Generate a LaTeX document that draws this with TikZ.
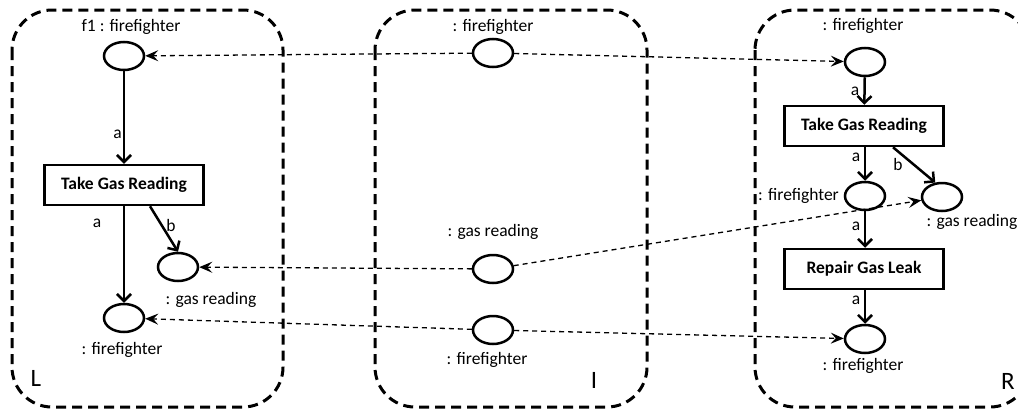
\documentclass[tikz,border=0pt]{standalone}
\usepackage{fontspec}
\setmainfont{Carlito}
\usetikzlibrary{arrows.meta,shapes.geometric}
\begin{document}
\begin{tikzpicture}[x=1pt,y=-1pt,
  every node/.style={font=\fontsize{17.5}{20}\selectfont},
  panel/.style={draw,line width=3pt,dash pattern=on 10pt off 6pt,rounded corners=40pt},
  place/.style={draw,ellipse,line width=2.5pt,minimum width=40pt,minimum height=28pt,inner sep=0pt},
  trans/.style={draw,rectangle,line width=2.5pt,minimum width=159pt,minimum height=40pt,inner sep=0pt,font=\fontsize{17.5}{20}\selectfont\bfseries},
  arc/.style={line width=2.5pt,-{Straight Barb[length=7pt,width=14pt,line width=2.5pt]}},
  map/.style={line width=1.3pt,dash pattern=on 5pt off 4pt,-{Stealth[length=13pt,width=11pt,inset=5pt]}},
  lbl/.style={inner sep=0pt},
  big/.style={inner sep=0pt,font=\fontsize{25}{28}\selectfont}]
\useasboundingbox (0,0) rectangle (1018,410);
\clip (0,0) rectangle (1018,410);
% panels
\draw[panel] (12,10) rectangle (283,407);
\draw[panel] (375,10) rectangle (647,407);
\draw[panel] (755,10) rectangle (1030,407);
% L panel
\node[lbl] (lt1) at (131,27) {f1 : firefighter};
\node[place] (lf1) at (124,56) {};
\node[trans] (ltgr) at (124,185) {Take Gas Reading};
\node[place] (lgr) at (178,267) {};
\node[place] (lff) at (124,318) {};
\node[lbl] (lt2) at (211,300) {: gas reading};
\node[lbl] (lt3) at (122,350) {: firefighter};
\node[big] (lL) at (36,378) {L};
\draw[arc] (lf1) -- (ltgr) node[pos=0.68,left=1pt,lbl] (la1) {a};
\draw[arc] (ltgr.south) -- (lff) ;
\node[lbl] (la2) at (97,223) {a};
\draw[arc] ([xshift=26pt]ltgr.south) -- (lgr.north);
\node[lbl] (lb1) at (171,225) {b};
% I panel
\node[lbl] (it1) at (493,27) {: firefighter};
\node[place] (if1) at (493,53) {};
\node[lbl] (it2) at (493,232) {: gas reading};
\node[place] (igr) at (493,269) {};
\node[place] (iff) at (493,330) {};
\node[lbl] (it3) at (487,360) {: firefighter};
\node[big] (iI) at (594,380) {I};
% R panel
\node[lbl] (rt1) at (863,26) {: firefighter};
\node[place] (rf1) at (865,62) {};
\node[trans] (rtgr) at (864,126) {Take Gas Reading};
\node[place] (rff) at (865,196) {};
\node[place] (rgr) at (942,197) {};
\node[trans] (rrgl) at (864,269) {Repair Gas Leak};
\node[place] (rfe) at (865,339) {};
\node[lbl,anchor=east] (rt2) at (839,196) {: firefighter};
\node[lbl] (rt3) at (972,222) {: gas reading};
\node[lbl] (rt4) at (863,366) {: firefighter};
\node[big] (rR) at (1008,381) {R};
\draw[arc] (rf1) -- (rtgr);
\node[lbl] (ra1) at (855,91) {a};
\draw[arc] (rtgr.south -| rff) -- (rff);
\node[lbl] (ra2) at (856,157) {a};
\draw[arc] ([xshift=29pt]rtgr.south) -- (rgr.115);
\node[lbl] (rb1) at (898,164) {b};
\draw[arc] (rff) -- (rrgl.north -| rff);
\node[lbl] (ra3) at (856,226) {a};
\draw[arc] (rrgl.south -| rfe) -- (rfe);
\node[lbl] (ra4) at (856,300) {a};
% mappings
\draw[map] (if1) -- (lf1);
\draw[map] (if1) -- (rf1);
\draw[map] (igr) -- (lgr);
\draw[map] (igr) -- (rgr);
\draw[map] (iff) -- (lff);
\draw[map] (iff) -- (rfe);
\end{tikzpicture}
\end{document}
